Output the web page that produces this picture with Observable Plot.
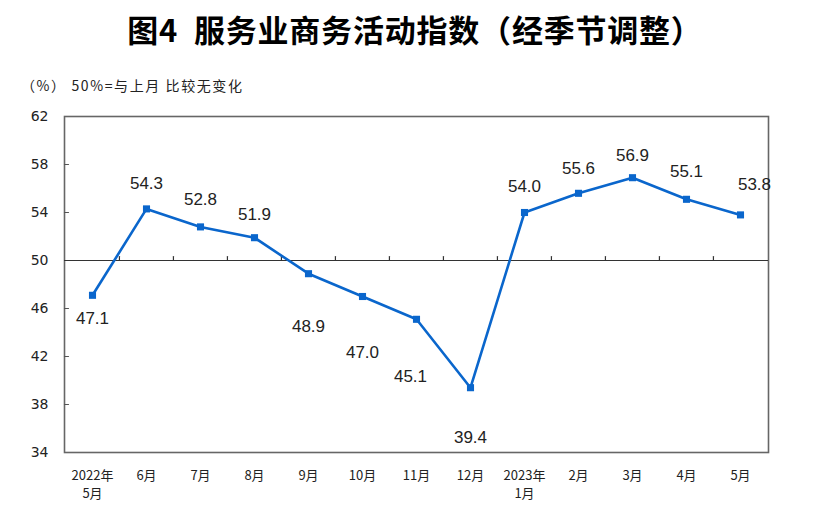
<!DOCTYPE html>
<html>
<head>
<meta charset="utf-8">
<script src="https://cdn.jsdelivr.net/npm/d3@7"></script>
<script src="https://cdn.jsdelivr.net/npm/@observablehq/plot@0.6"></script>
<style>
  html, body { margin: 0; padding: 0; background: #fff; }
  #wrap { position: relative; width: 830px; height: 515px; overflow: hidden; }
  #title { position: absolute; left: 0; top: 8px; width: 830px; text-align: center;
           font-family: "Noto Sans CJK SC", sans-serif; font-weight: 700; font-size: 31px; letter-spacing: 0.8px; color: #000; line-height: 42px; }
  #sub { position: absolute; left: 21px; top: 75px; font-family: "Noto Sans CJK SC", sans-serif;
         font-size: 14px; letter-spacing: 1.6px; color: #222; line-height: 20px; }
  #chart { position: absolute; left: 0; top: 0; }
</style>
</head>
<body>
<div id="wrap">
  <div id="chart"></div>
  <div id="title">图4&nbsp;&nbsp;服务业商务活动指数（经季节调整）</div>
  <div id="sub">（%）&nbsp;50%=与上月&nbsp;比较无变化</div>
</div>
<script>
// ---- data ----
const months = ["2022年\n5月", "6月", "7月", "8月", "9月", "10月", "11月", "12月", "2023年\n1月", "2月", "3月", "4月", "5月"];
const values = [47.1, 54.3, 52.8, 51.9, 48.9, 47.0, 45.1, 39.4, 54.0, 55.6, 56.9, 55.1, 53.8];
const yTicks = [34, 38, 42, 46, 50, 54, 58, 62];

// ---- layout (label placement, pixels) ----
const labelDx = [0, 0, 0, 0, 0, 0, -6, 0, 0, 0, 0, 0, 14];
const labelDy = [23, -25, -27, -23, 53, 56, 57, 50, -26, -25, -22, -28, -30];

const data = months.map((m, i) => ({month: m, value: values[i], dx: labelDx[i], dy: labelDy[i]}));

const W = 830, H = 515, mL = 64, mR = 62, mT = 116, mB = 63;
const bw = (W - mL - mR) / months.length;

const tickShape = { draw(context, l) { context.moveTo(0, 0); context.lineTo(0, -l); } };

const marks = [
  Plot.frame({stroke: "#666", strokeWidth: 1.6}),
  Plot.ruleY([50], {stroke: "#333", strokeWidth: 1}),
  // inward y ticks on left axis
  Plot.vector(yTicks.filter(d => d > 34 && d < 62 && d !== 50), {y: d => d, frameAnchor: "left", length: 4, rotate: 90, anchor: "start", shape: tickShape, stroke: "#555", strokeWidth: 1.2}),
  // category boundary ticks on the 50 line
  Plot.vector(months.slice(1), {x: d => d, y: () => 50, dx: -bw / 2, length: 4, rotate: 0, anchor: "start", shape: tickShape, stroke: "#333", strokeWidth: 1.2}),
  Plot.line(data, {x: "month", y: "value", stroke: "#0A66CC", strokeWidth: 2.6}),
  Plot.dot(data, {x: "month", y: "value", symbol: "square", r: 4, fill: "#0A66CC", stroke: "none"}),
  ...data.map(d => Plot.text([d], {x: "month", y: "value", text: x => x.value.toFixed(1), dx: d.dx, dy: d.dy,
    fontSize: 17, fill: "#222", fontFamily: "Liberation Sans, Arial, sans-serif"})),
  Plot.axisY(yTicks, {anchor: "left", tickSize: 0, tickPadding: 16, fontSize: 14, fill: "#222", fontFamily: "DejaVu Sans, sans-serif"}),
  Plot.axisX({anchor: "bottom", tickSize: 0, tickPadding: 15, fontSize: 13, fill: "#222", lineHeight: 1.35, fontFamily: "Noto Sans CJK SC, sans-serif"})
];

const chart = Plot.plot({
  width: W, height: H,
  marginLeft: mL, marginRight: mR, marginTop: mT, marginBottom: mB,
  x: {type: "band", domain: months, padding: 0, label: null},
  y: {domain: [34, 62], label: null},
  style: {background: "transparent"},
  marks
});
document.getElementById("chart").appendChild(chart);
</script>
</body>
</html>
